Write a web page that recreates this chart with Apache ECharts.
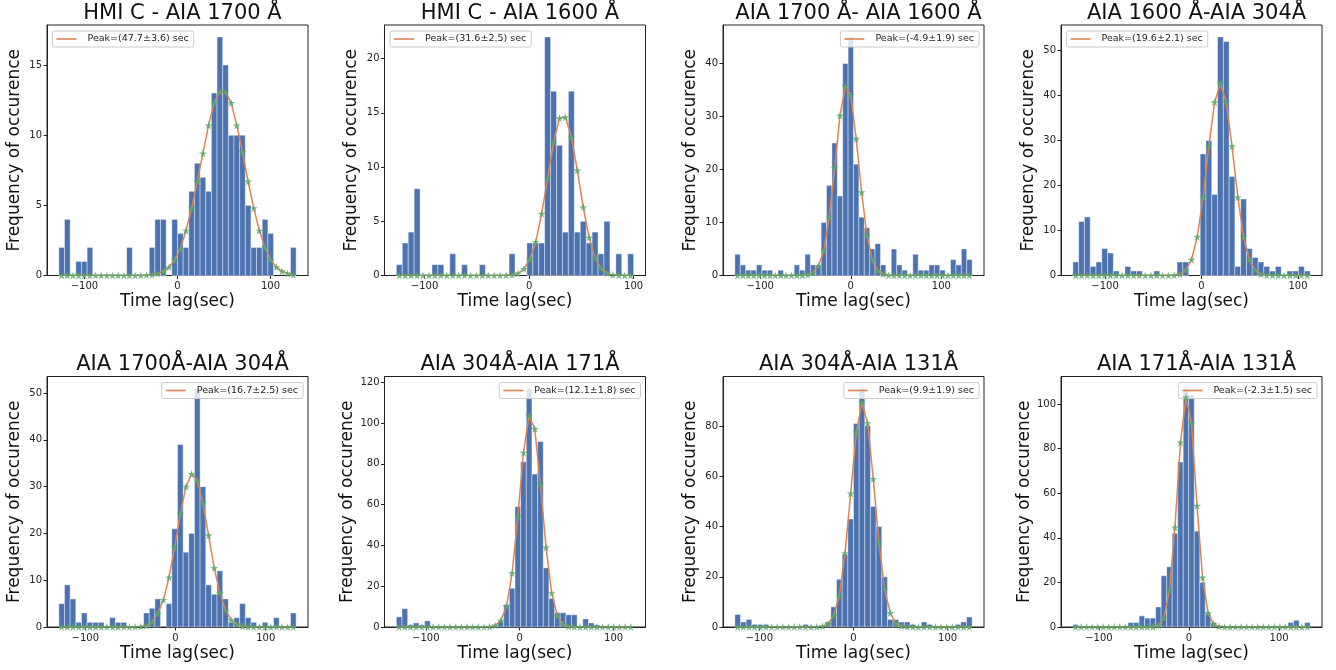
<!DOCTYPE html>
<html>
<head>
<meta charset="utf-8">
<title>Time lag histograms</title>
<script src="https://cdn.jsdelivr.net/npm/echarts@6/dist/echarts.min.js"></script>
<style>
  html, body { margin: 0; padding: 0; background: #fff; }
  #chart { width: 1336px; height: 670px; }
</style>
</head>
<body>
<div id="chart"></div>
<script>
// panel titles and legend text of the gaussian fit
var titles = ["HMI C - AIA 1700 Å", "HMI C - AIA 1600 Å", "AIA 1700 Å- AIA 1600 Å", "AIA 1600 Å-AIA 304Å",
              "AIA 1700Å-AIA 304Å", "AIA 304Å-AIA 171Å", "AIA 304Å-AIA 131Å", "AIA 171Å-AIA 131Å"];
var peakLabels = ["Peak=(47.7±3.6) sec", "Peak=(31.6±2.5) sec", "Peak=(-4.9±1.9) sec", "Peak=(19.6±2.1) sec",
                  "Peak=(16.7±2.5) sec", "Peak=(12.1±1.8) sec", "Peak=(9.9±1.9) sec", "Peak=(-2.3±1.5) sec"];

// lag range covered by the histogram bins (sec)
var lagLo = [-127.5, -127, -128, -133.4, -129.3, -131.3, -126, -128.9];
var lagHi = [127.5, 100, 134, 112.6, 133.7, 121.3, 126, 134.4];

// histogram counts, one value per bin
var counts1 = [2,4,0,1,1,2,0,0,0,0, 0,0,2,0,0,0,2,4,4,0, 4,3,2,6,8,7,6,13,17,15, 10,10,10,5,2,2,4,3,0,0, 0,2];
var counts2 = [1,3,4,8,0,0,1,1,0,2, 0,1,0,0,1,0,0,0,0,2, 0,0,3,3,3,22,17,12,4,17, 4,5,3,4,2,5,0,2,0,2];
var counts3 = [4,2,1,1,2,1,1,0,1,0, 0,2,1,4,2,2,10,17,25,15, 40,45,21,11,9,5,6,2,0,5, 2,1,0,4,1,1,2,2,1,0, 3,2,5,3];
var counts4 = [3,12,13,2,3,6,5,1,0,2, 1,1,0,0,1,0,0,0,3,3, 0,0,27,30,18,53,52,22,2,17, 6,4,3,2,1,2,0,1,1,2, 1];
var counts5 = [5,9,6,1,3,1,1,1,0,2, 1,1,0,0,0,3,4,6,0,5, 21,39,16,20,51,30,9,7,12,6, 1,2,5,2,1,0,1,0,2,0, 0,3];
var counts6 = [5,9,1,2,1,3,0,0,0,0, 0,0,0,0,0,0,0,1,3,11, 19,59,81,117,75,91,29,14,7,7, 6,6,0,4,2,1,0,0,0,0, 0,0];
var counts7 = [5,2,3,1,1,1,0,0,0,0, 0,0,1,0,0,0,2,8,19,29, 43,81,95,80,48,40,20,3,3,2, 2,1,0,2,1,0,0,0,0,1, 2,4];
var counts8 = [1,0,0,0,0,0,0,0,0,0, 2,2,5,4,4,9,23,27,42,74, 107,104,43,20,6,2,0,0,0,0, 0,0,0,0,0,0,0,0,0,2, 3,0,2];

// gaussian fit read at the bin centres (the green stars)
var fit1 = [0,0,0,0,0,0,0,0,0,0, 0,0,0,0,0,0.02,0.06,0.15,0.3,0.6, 1.1,1.9,3.2,4.8,6.7,8.7,10.7,12.3,13.1,13.1, 12.3,10.7,8.8,6.7,4.8,3.2,2.0,1.1,0.6,0.3, 0.15,0.06];
var fit2 = [0,0,0,0,0,0,0,0,0,0, 0,0,0,0,0,0,0,0,0.02,0.06, 0.2,0.6,1.5,3.1,5.7,9.0,12.3,14.5,14.6,12.8, 9.7,6.3,3.5,1.6,0.65,0.22,0.06,0.02,0,0];
var fit3 = [0,0,0,0,0,0,0,0,0,0, 0,0,0.03,0.15,0.6,1.8,4.7,11,20.3,30.2, 35.7,34,25.8,15.7,7.6,2.9,0.9,0.25,0.05,0, 0,0,0,0,0,0,0,0,0,0, 0,0,0,0];
var fit4 = [0,0,0,0,0,0,0,0,0,0, 0,0,0,0,0,0,0,0.06,0.3,1.2, 3.5,8.6,17.4,28.7,38.5,42.7,38.5,28.7,17.4,8.6, 3.5,1.2,0.3,0.06,0,0,0,0,0,0, 0];
var fit5 = [0,0,0,0,0,0,0,0,0,0, 0,0,0,0,0.08,0.3,1.0,2.9,5.8,10.6, 17,24.2,30,32.7,31.3,26.5,19.6,12.6,7.3,3.6, 1.5,0.6,0.2,0.05,0,0,0,0,0,0, 0,0];
var fit6 = [0,0,0,0,0,0,0,0,0,0, 0,0,0,0,0,0,0.15,0.8,3.2,10.2, 26.5,54.2,85.5,103.5,97.2,70,39,16.6,5.5,1.4, 0.3,0.05,0,0,0,0,0,0,0,0, 0,0];
var fit7 = [0,0,0,0,0,0,0,0,0,0, 0,0,0,0,0.05,0.3,1.3,4.6,12.6,29.4, 53.2,77.5,89.4,81.2,59,33.8,15.2,5.6,1.4,0.3, 0.05,0,0,0,0,0,0,0,0,0, 0,0];
var fit8 = [0,0,0,0,0,0,0,0,0,0, 0,0,0,0,0.1,0.7,4,16.5,44.7,82.8, 103,91.5,54.4,22.2,6.3,1.3,0.2,0,0,0, 0,0,0,0,0,0,0,0,0,0, 0,0,0];

// tick labels
var xTicks = [-100, 0, 100];
var yTicks1 = [0, 5, 10, 15];
var yTicks2 = [0, 5, 10, 15, 20];
var yTicks3 = [0, 10, 20, 30, 40];
var yTicks4 = [0, 10, 20, 30, 40, 50];
var yTicks5 = [0, 10, 20, 30, 40, 50];
var yTicks6 = [0, 20, 40, 60, 80, 100, 120];
var yTicks7 = [0, 20, 40, 60, 80];
var yTicks8 = [0, 20, 40, 60, 80, 100];

var counts = [counts1, counts2, counts3, counts4, counts5, counts6, counts7, counts8];
var fits = [fit1, fit2, fit3, fit4, fit5, fit6, fit7, fit8];
var yTicks = [yTicks1, yTicks2, yTicks3, yTicks4, yTicks5, yTicks6, yTicks7, yTicks8];

// layout of the 2x4 panels (px)
var colLeft = [47, 384.5, 723, 1061];
var rowTop = [25, 376.5];
var gridW = 261;
var gridH = 250.5;
var legendOnRight = [false, false, true, false, true, true, true, true];

var BLUE = "#4c72b0", ORANGE = "#dd8452", GREEN = "#55a868", INK = "#222";
var STAR = "path://M50,0L61.8,38.2L100,38.2L69.1,61.8L80.9,100L50,76.4L19.1,100L30.9,61.8L0,38.2L38.2,38.2Z";

function minusFmt(v) {
    return v < 0 ? "\u2212" + Math.abs(v) : String(v);
}

function renderBin(params, api) {
    var h = api.value(2);
    if (!h) return null;
    var p0 = api.coord([api.value(0), 0]);
    var p1 = api.coord([api.value(1), h]);
    return {
        type: "rect",
        shape: {x: p0[0], y: p1[1], width: p1[0] - p0[0], height: p0[1] - p1[1]},
        style: {fill: BLUE, stroke: "rgba(255,255,255,0.7)", lineWidth: 0.6}
    };
}

function buildOption() {
    var option = {
        animation: false,
        backgroundColor: "#fff",
        textStyle: {fontFamily: "DejaVu Sans"},
        title: [], grid: [], xAxis: [], yAxis: [], legend: [], series: []
    };

    for (var i = 0; i < 8; i++) {
        var gx = colLeft[i % 4];
        var gy = rowTop[Math.floor(i / 4)];
        var lo = lagLo[i], hi = lagHi[i];
        var n = counts[i].length;
        var w = (hi - lo) / n;
        var pad = 0.05 * (hi - lo);

        var bins = [], curve = [];
        for (var k = 0; k < n; k++) {
            bins.push([lo + k * w, lo + (k + 1) * w, counts[i][k]]);
            curve.push([lo + (k + 0.5) * w, fits[i][k]]);
        }

        option.title.push({
            text: titles[i],
            left: gx + gridW / 2,
            top: gy - 27,
            textAlign: "center",
            textStyle: {fontSize: 21, fontWeight: "normal", color: "#111", fontFamily: "DejaVu Sans"}
        });

        option.grid.push({
            left: gx, top: gy, width: gridW, height: gridH,
            show: true, borderColor: INK, borderWidth: 1,
            containLabel: false, outerBoundsMode: "none"
        });

        option.xAxis.push({
            type: "value", gridIndex: i,
            min: lo - pad, max: hi + pad,
            name: "Time lag(sec)", nameLocation: "middle", nameGap: 18,
            nameTextStyle: {fontSize: 17, color: "#111"},
            axisLine: {show: true, onZero: false, lineStyle: {color: INK, width: 1}},
            axisTick: {show: true, inside: false, length: 3.5, customValues: xTicks, lineStyle: {color: INK}},
            axisLabel: {fontSize: 10, color: INK, margin: 6, customValues: xTicks, formatter: minusFmt},
            splitLine: {show: false}
        });

        option.yAxis.push({
            type: "value", gridIndex: i,
            min: 0, max: 1.05 * Math.max.apply(null, counts[i]),
            name: "Frequency of occurence", nameLocation: "middle", nameRotate: 90, nameGap: 24,
            nameTextStyle: {fontSize: 17, color: "#111"},
            axisLine: {show: true, onZero: false, lineStyle: {color: INK, width: 1}},
            axisTick: {show: true, inside: false, length: 3.5, customValues: yTicks[i], lineStyle: {color: INK}},
            axisLabel: {fontSize: 10, color: INK, margin: 5, customValues: yTicks[i]},
            splitLine: {show: false}
        });

        var lg = {
            data: [peakLabels[i]],
            top: gy + 6,
            orient: "horizontal",
            icon: "rect", itemWidth: 20, itemHeight: 1.6,
            padding: [3, 5, 3, 4],
            backgroundColor: "rgba(255,255,255,0.8)",
            borderColor: "#cccccc", borderWidth: 1, borderRadius: 2,
            textStyle: {fontSize: 9.5, color: INK},
            formatter: function (name) { return "  " + name; },
            selectedMode: false
        };
        if (legendOnRight[i]) lg.right = 1336 - (gx + gridW) + 5;
        else lg.left = gx + 5.5;
        option.legend.push(lg);

        option.series.push({
            type: "custom", name: "hist" + i,
            xAxisIndex: i, yAxisIndex: i,
            renderItem: renderBin,
            encode: {x: [0, 1], y: 2},
            data: bins, z: 1
        });
        option.series.push({
            type: "line", name: peakLabels[i],
            xAxisIndex: i, yAxisIndex: i,
            data: curve, showSymbol: false, symbol: "none",
            color: ORANGE,
            lineStyle: {color: ORANGE, width: 1.5},
            z: 3
        });
        option.series.push({
            type: "scatter", name: "fit" + i,
            xAxisIndex: i, yAxisIndex: i,
            data: curve, symbol: STAR, symbolSize: 8,
            itemStyle: {color: GREEN},
            z: 4
        });
    }
    return option;
}

var chart = echarts.init(document.getElementById("chart"));
chart.setOption(buildOption());
</script>
</body>
</html>
